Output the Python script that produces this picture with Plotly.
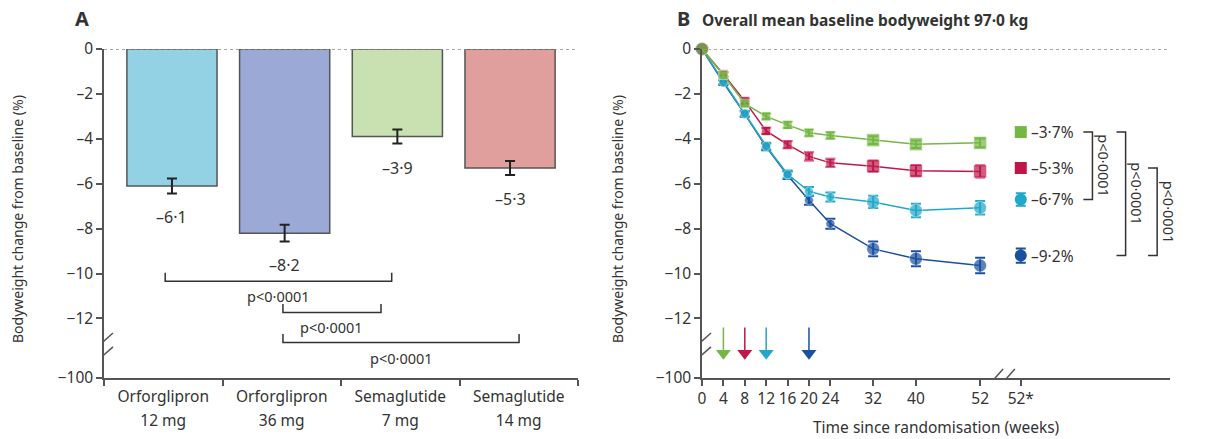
import plotly.graph_objects as go

# ---------------- Data ----------------
# Panel A
arm_line1 = ["Orforglipron", "Orforglipron", "Semaglutide", "Semaglutide"]
arm_line2 = ["12 mg", "36 mg", "7 mg", "14 mg"]
bar_change = [-6.1, -8.2, -3.9, -5.3]
bar_err = [0.33, 0.37, 0.31, 0.31]
bar_colors = ["#93d2e5", "#9aa9d5", "#c9e0b1", "#e09f9c"]
a_comparisons = [(0, 2), (1, 2), (1, 3)]
a_pvals = ["p<0·0001", "p<0·0001", "p<0·0001"]

# Panel B
weeks = [0, 4, 8, 12, 16, 20, 24, 32, 40, 52]
week_ticks = ["0", "4", "8", "12", "16", "20", "24", "32", "40", "52"]
sema7 = [0, -1.16, -2.43, -3.00, -3.38, -3.73, -3.85, -4.06, -4.24, -4.18]
sema7_err = [0, 0.10, 0.12, 0.13, 0.14, 0.15, 0.15, 0.17, 0.17, 0.19]
sema14 = [0, -1.12, -2.32, -3.65, -4.26, -4.78, -5.07, -5.22, -5.42, -5.45]
sema14_err = [0, 0.10, 0.12, 0.14, 0.16, 0.18, 0.18, 0.25, 0.25, 0.27]
orf12 = [0, -1.46, -2.87, -4.32, -5.58, -6.34, -6.59, -6.81, -7.19, -7.07]
orf12_err = [0, 0.10, 0.12, 0.15, 0.17, 0.20, 0.20, 0.27, 0.30, 0.30]
orf36 = [0, -1.50, -2.90, -4.36, -5.62, -6.74, -7.78, -8.90, -9.34, -9.64]
orf36_err = [0, 0.10, 0.12, 0.15, 0.17, 0.20, 0.22, 0.33, 0.33, 0.35]
end_values = [-3.7, -5.3, -6.7, -9.2]
end_err = [0.18, 0.22, 0.28, 0.32]
dose_week = [4, 8, 12, 20]
b_comparisons = [(0, 2), (0, 3), (1, 3)]
b_pvals = ["p<0·0001", "p<0·0001", "p<0·0001"]

series_colors = ["#74b744", "#c0174b", "#21a8c9", "#1a509e"]
series_symbols = ["square", "square", "circle", "circle"]

# ---------------- Layout constants ----------------
W, H = 1216, 439
FONT = "Noto Sans"
TXT = "#333333"
AX = "#555555"
BRK = -14.65          # position used for the "-100" tick after the axis break
X52S = 59.6           # position of the "52*" tick after the axis break
dA = [104 / W, 578 / W]
dB = [702 / W, 1170 / W]
dY = [1 - 378 / H, 1 - 49 / H]


def fmt(v, pct=False):
    s = f"{abs(v):.1f}".replace(".", "·")
    return ("–" if v < 0 else "") + s + ("%" if pct else "")


fig = go.Figure()

# ---- Panel A bars ----
fig.add_trace(go.Bar(
    x=list(range(len(bar_change))), y=bar_change, width=0.8,
    marker=dict(color=bar_colors, line=dict(color=AX, width=1.5)),
    error_y=dict(type="data", array=bar_err, color="#222222", thickness=2, width=5),
    xaxis="x3", yaxis="y", showlegend=False,
))

# ---- Panel B lines ----
b_series = [(sema7, sema7_err), (sema14, sema14_err), (orf12, orf12_err), (orf36, orf36_err)]
for idx in [3, 2, 1, 0]:
    vals, errs = b_series[idx]
    col = series_colors[idx]
    sizes = [13 if w == 0 else (9 if w <= 24 else 13) for w in weeks]
    symbols = ["circle"] + [series_symbols[idx]] * (len(weeks) - 1)
    fig.add_trace(go.Scatter(
        x=weeks, y=vals, mode="lines+markers",
        line=dict(color=col, width=1.5),
        marker=dict(color=col, size=sizes, symbol=symbols, line=dict(color="white", width=0.6)),
        error_y=dict(type="data", array=errs, color=col, thickness=2, width=5),
        xaxis="x2", yaxis="y2", showlegend=False, cliponaxis=False,
    ))
    fig.add_trace(go.Scatter(
        x=[X52S], y=[end_values[idx]], mode="markers",
        marker=dict(color=col, size=12, symbol=series_symbols[idx]),
        error_y=dict(type="data", array=[end_err[idx]], color=col, thickness=2, width=5),
        xaxis="x2", yaxis="y2", showlegend=False, cliponaxis=False,
    ))

# arrow heads (dose reached)
fig.add_trace(go.Scatter(
    x=dose_week, y=[-13.55] * len(dose_week), mode="markers",
    marker=dict(symbol="triangle-down", size=13, color=series_colors),
    xaxis="x2", yaxis="y2", showlegend=False, cliponaxis=False,
))

shapes = []
annotations = []

# zero dashed lines
shapes.append(dict(type="line", xref="x", yref="y", x0=-0.5, x1=3.5, y0=0, y1=0,
                   line=dict(color="#8a8a8a", width=1.3, dash="3px,3px"), layer="above"))
shapes.append(dict(type="line", xref="x2", yref="y2", x0=0, x1=87.5, y0=0, y1=0,
                   line=dict(color="#8a8a8a", width=1.3, dash="3px,3px"), layer="below"))

# arrow shafts
for w, col in zip(dose_week, series_colors):
    shapes.append(dict(type="line", xref="x2", yref="y2", x0=w, x1=w, y0=-12.4, y1=-13.4,
                       line=dict(color=col, width=1.5)))

# axis break marks
for xr, yr, xa, ya in [("x", "y", -0.5, -13.0), ("x", "y", -0.5, -13.62),
                       ("x2", "y2", 0, -13.0), ("x2", "y2", 0, -13.62)]:
    shapes.append(dict(type="line", xref=xr, yref=yr, xsizemode="pixel", ysizemode="pixel",
                       xanchor=xa, yanchor=ya, x0=-9, x1=9, y0=-8, y1=8,
                       line=dict(color=AX, width=1.5)))
for xa in [54.8, 57.0]:
    shapes.append(dict(type="line", xref="x2", yref="y2", xsizemode="pixel", ysizemode="pixel",
                       xanchor=xa, yanchor=BRK, x0=-8, x1=8, y0=-9, y1=9,
                       line=dict(color=AX, width=1.5)))

# Panel A brackets
a_bracket_x = [(-0.06, 1.95), (0.985, 1.855), (0.985, 3.08)]
a_bracket_y = [-10.34, -11.73, -13.07]
for (x0, x1), y, p in zip(a_bracket_x, a_bracket_y, a_pvals):
    shapes.append(dict(type="path", xref="x3", yref="y",
                       path=f"M {x0},{y + 0.38} L {x0},{y} L {x1},{y} L {x1},{y + 0.38}",
                       line=dict(color="#333333", width=1.5)))
    annotations.append(dict(x=(x0 + x1) / 2, y=y, xref="x3", yref="y", text=p, showarrow=False,
                            yanchor="middle", yshift=-15, font=dict(size=14.5, color=TXT, family=FONT)))

# Panel A value labels
for i, (v, e) in enumerate(zip(bar_change, bar_err)):
    annotations.append(dict(x=i, y=v - e, xref="x3", yref="y", text=fmt(v), showarrow=False,
                            yanchor="top", yshift=-11, font=dict(size=16, color=TXT, family=FONT)))

# Panel B end labels
for v, col in zip(end_values, series_colors):
    annotations.append(dict(x=X52S, y=v, xref="x2", yref="y2", text=fmt(v, True), showarrow=False,
                            xanchor="left", xshift=8, font=dict(size=15.5, color=TXT, family=FONT)))

# Panel B brackets
b_bracket_x = [73.0, 79.2, 85.1]
for (i, j), xv, p in zip(b_comparisons, b_bracket_x, b_pvals):
    y0, y1 = end_values[i], end_values[j]
    xt = xv - 1.7
    shapes.append(dict(type="path", xref="x2", yref="y2",
                       path=f"M {xt},{y0} L {xv},{y0} L {xv},{y1} L {xt},{y1}",
                       line=dict(color="#333333", width=1.5)))
    annotations.append(dict(x=xv, y=(y0 + y1) / 2, xref="x2", yref="y2", text=p, showarrow=False,
                            textangle=90, xanchor="center", xshift=12,
                            font=dict(size=14.5, color=TXT, family=FONT)))

# Titles
annotations.append(dict(x=73 / W, y=1 - 19 / H, xref="paper", yref="paper", text="<b>A</b>",
                        showarrow=False, xanchor="left", yanchor="middle",
                        font=dict(size=20, color=TXT, family=FONT)))
annotations.append(dict(x=675 / W, y=1 - 19 / H, xref="paper", yref="paper", text="<b>B</b>",
                        showarrow=False, xanchor="left", yanchor="middle",
                        font=dict(size=20, color=TXT, family=FONT)))
annotations.append(dict(x=700 / W, y=1 - 20 / H, xref="paper", yref="paper",
                        text="<b>Overall mean baseline bodyweight 97·0 kg</b>",
                        showarrow=False, xanchor="left", yanchor="middle",
                        font=dict(size=15.5, color=TXT, family=FONT)))
for xp in [17, 617]:
    annotations.append(dict(x=xp / W, y=1 - 219 / H, xref="paper", yref="paper",
                            text="Bodyweight change from baseline (%)", textangle=-90,
                            showarrow=False, xanchor="center", yanchor="middle",
                            font=dict(size=14, color=TXT, family=FONT)))
annotations.append(dict(x=936 / W, y=1 - 427 / H, xref="paper", yref="paper",
                        text="Time since randomisation (weeks)", showarrow=False,
                        xanchor="center", yanchor="middle",
                        font=dict(size=15.5, color=TXT, family=FONT)))

ytickvals = [0, -2, -4, -6, -8, -10, -12, BRK]
yticktext = ["0", "–2", "–4", "–6", "–8", "−10", "−12", "−100"]
yax = dict(range=[BRK, 0], domain=dY, tickvals=ytickvals, ticktext=yticktext,
           showline=True, linecolor=AX, linewidth=1.5, ticks="outside", ticklen=6,
           tickwidth=1.5, tickcolor=AX, showgrid=False, zeroline=False, automargin=False,
           tickfont=dict(size=15.5, color=TXT, family=FONT))

cat_text = [f"<span style='font-size:15.5px'>{a}</span><br><span style='font-size:15.5px'>{b}</span>"
            for a, b in zip(arm_line1, arm_line2)]

fig.update_layout(
    width=W, height=H, autosize=False,
    margin=dict(l=0, r=0, t=0, b=0, pad=0, autoexpand=False),
    paper_bgcolor="white", plot_bgcolor="white",
    font=dict(family=FONT, color=TXT, size=14),
    xaxis=dict(domain=dA, anchor="y", range=[-0.5, 3.5], tickvals=[0, 1, 2, 3], ticktext=cat_text,
               showline=True, linecolor=AX, linewidth=1.5, ticks="", showgrid=False, zeroline=False,
               automargin=False, tickfont=dict(size=18.5, color=TXT, family=FONT),
               minor=dict(ticks="outside", ticklen=6, tickwidth=1.5, tickcolor=AX,
                          tick0=0.5, dtick=1, showgrid=False)),
    xaxis3=dict(overlaying="x", anchor="y", range=[-0.603, 3.603], visible=False, automargin=False),
    yaxis=dict(anchor="x", **yax),
    xaxis2=dict(domain=dB, anchor="y2", range=[0, 87.5], tickvals=weeks + [X52S],
                ticktext=week_ticks + ["52*"], showline=True, linecolor=AX, linewidth=1.5,
                ticks="outside", ticklen=6, tickwidth=1.5, tickcolor=AX, showgrid=False,
                zeroline=False, automargin=False, tickfont=dict(size=15.5, color=TXT, family=FONT)),
    yaxis2=dict(anchor="x2", **yax),
    shapes=shapes, annotations=annotations, showlegend=False,
)

fig.write_html("out.html")
